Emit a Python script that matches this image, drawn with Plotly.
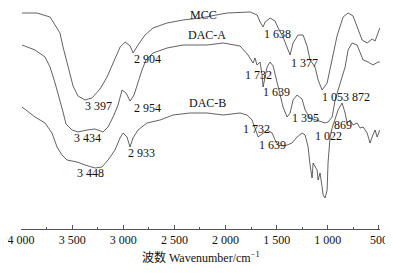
import plotly.graph_objects as go

# ---- data (wavenumber cm-1, relative transmittance a.u.) ----
mcc_wn = [3990, 3844, 3716, 3667, 3619, 3589, 3540, 3491, 3443, 3374, 3306, 3227, 3159, 3080, 3031,
          2982, 2933, 2904, 2856, 2787, 2709, 2572, 2415, 2249, 1985, 1760, 1691, 1662, 1633, 1613,
          1564, 1516, 1486, 1438, 1389, 1369, 1340, 1291, 1242, 1203, 1174, 1125, 1095, 1056, 1007,
          958, 910, 851, 802, 753, 704, 665, 616, 567, 538, 509, 492]
mcc_t = [216, 216, 212, 204, 196, 182, 162, 143, 133, 129, 131, 140, 152, 171, 182,
         187, 183, 176, 184, 194, 201, 206, 209, 211, 216, 217, 214, 207, 202, 207,
         211, 208, 201, 192, 179, 174, 186, 194, 194, 183, 169, 162, 149, 139, 146,
         169, 193, 212, 216, 213, 199, 189, 186, 190, 188, 197, 201]

daca_wn = [3990, 3863, 3765, 3716, 3667, 3619, 3589, 3560, 3501, 3443, 3355, 3276, 3198, 3149, 3100,
           3051, 3012, 2973, 2933, 2895, 2856, 2817, 2778, 2709, 2572, 2416, 2181, 2024, 1858, 1780,
           1731, 1712, 1692, 1663, 1643, 1633, 1594, 1565, 1535, 1496, 1467, 1438, 1398, 1369, 1340,
           1301, 1252, 1222, 1174, 1105, 1027, 998, 958, 929, 880, 831, 802, 763, 714, 684,
           655, 606, 558, 509, 492]
daca_t = [184, 179, 172, 162, 146, 129, 117, 105, 99, 97, 99, 100, 97, 102, 112,
          124, 139, 136, 128, 134, 147, 159, 169, 176, 181, 184, 184, 186, 183, 174,
          166, 171, 164, 167, 154, 142, 162, 167, 163, 147, 133, 122, 112, 116, 129,
          134, 130, 119, 111, 109, 106, 107, 112, 129, 146, 162, 179, 186, 184, 176,
          169, 167, 164, 167, 167]

dacb_wn = [3990, 3863, 3765, 3697, 3648, 3599, 3550, 3452, 3374, 3276, 3208, 3149, 3081, 3032, 3002,
           2963, 2934, 2905, 2856, 2768, 2641, 2513, 2347, 2181, 2024, 1858, 1790, 1741, 1712, 1682,
           1643, 1594, 1545, 1516, 1487, 1438, 1398, 1350, 1301, 1252, 1222, 1193, 1174, 1154, 1144,
           1105, 1095, 1076, 1056, 1046, 1027, 1007, 998, 978, 958, 929, 900, 861, 831, 812,
           782, 753, 714, 685, 655, 616, 587, 567, 538, 518, 492]
dacb_t = [122, 112, 106, 96, 82, 74, 69, 67, 64, 61, 62, 69, 79, 91, 96,
          92, 82, 91, 99, 106, 109, 114, 116, 116, 114, 116, 114, 109, 101, 92,
          95, 99, 96, 89, 84, 83, 84, 86, 92, 96, 94, 82, 64, 51, 66,
          59, 49, 56, 42, 34, 31, 39, 66, 92, 101, 111, 119, 126, 116, 106,
          109, 104, 106, 101, 102, 96, 86, 92, 99, 92, 99]

series_names = ["MCC", "DAC-A", "DAC-B"]
name_wn = [2220, 2181, 2181]
name_t = [214, 194, 126]

peak_text = ["3 397", "2 904", "3 434", "2 954", "3 448", "2 933", "1 638", "1 377", "1 732",
             "1 639", "1 053", "872", "1 395", "1 022", "869", "1 732", "1 639"]
peak_wn = [3247, 2768, 3345, 2768, 3325, 2826, 1496, 1232, 1682,
           1506, 929, 672, 1222, 998, 851, 1702, 1545]
peak_t = [123, 170, 91, 121, 56, 76, 195, 166, 154,
          137, 132, 132, 111, 93, 104, 100, 84]

tick_vals = [4000, 3500, 3000, 2500, 2000, 1500, 1000, 500]
tick_text = ["4 000", "3 500", "3 000", "2 500", "2 000", "1 500", "1 000", "500"]
minor_vals = [3750, 3250, 2750, 2250, 1750, 1250, 750]

SERIF = "Liberation Serif"
LINE = "#3a3a3a"

fig = go.Figure()
for wn, t in [(mcc_wn, mcc_t), (daca_wn, daca_t), (dacb_wn, dacb_t)]:
    fig.add_trace(go.Scatter(x=wn, y=t, mode="lines",
                             line=dict(color=LINE, width=0.8), showlegend=False,
                             hoverinfo="skip"))

for n, x, y in zip(series_names, name_wn, name_t):
    fig.add_annotation(x=x, y=y, text=n, showarrow=False,
                       font=dict(family=SERIF, size=12, color="#111"))
for s, x, y in zip(peak_text, peak_wn, peak_t):
    fig.add_annotation(x=x, y=y, text=s, showarrow=False,
                       font=dict(family=SERIF, size=12, color="#111"))

# page body adds an 8px offset; the figure is sized to fill the rest of the window
fig.add_annotation(xref="paper", yref="paper", x=0.5, y=-0.131, yanchor="middle",
                   text="波数 Wavenumber/cm<sup>−1</sup>", showarrow=False,
                   font=dict(family="Liberation Serif, Noto Sans CJK SC", size=12, color="#111"))

fig.update_layout(
    width=385, height=265,
    margin=dict(l=13, r=13, t=0, b=44),
    paper_bgcolor="white", plot_bgcolor="white",
    xaxis=dict(range=[4000, 490], tickmode="array", tickvals=tick_vals, ticktext=tick_text,
               ticks="inside", ticklen=4, tickwidth=1, tickcolor="#555",
               showline=True, linecolor="#555", linewidth=1, showgrid=False, zeroline=False,
               tickfont=dict(family=SERIF, size=12, color="#111"),
               ticklabeloverflow="allow",
               minor=dict(tickvals=minor_vals, ticks="inside", ticklen=2, tickcolor="#555"),
               automargin=False),
    yaxis=dict(range=[0, 221], visible=False),
)

fig.write_html("out.html")
